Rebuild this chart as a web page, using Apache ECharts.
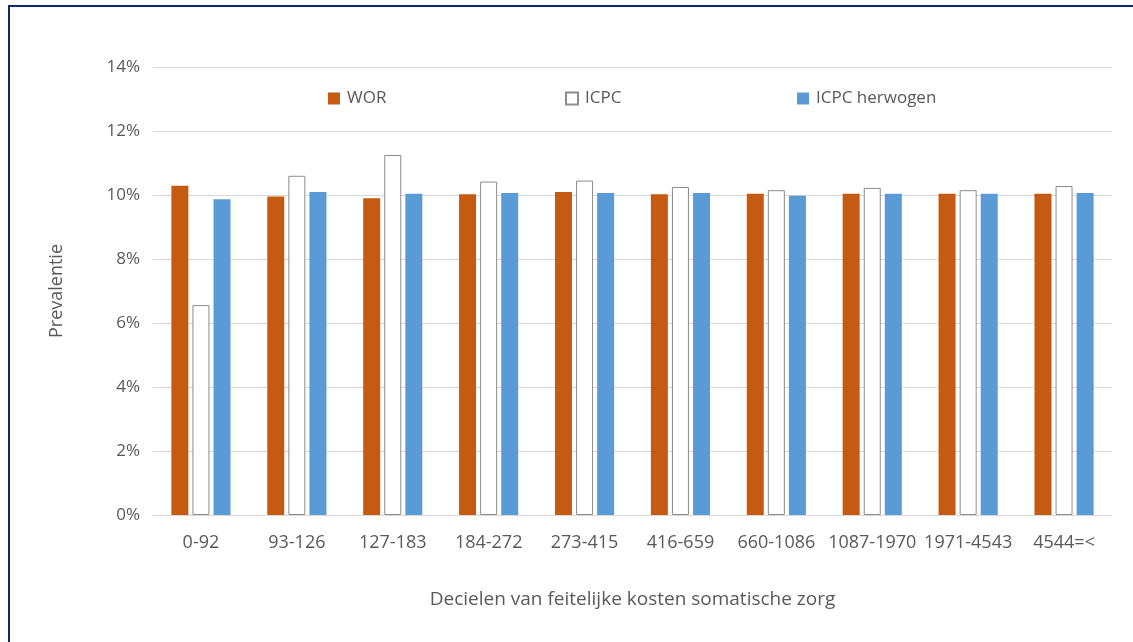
<!DOCTYPE html>
<html>
<head>
<meta charset="utf-8">
<script src="https://cdn.jsdelivr.net/npm/echarts@6/dist/echarts.min.js"></script>
<style>
html,body{margin:0;padding:0;background:#fff;}
#frame{position:absolute;left:8px;top:5px;width:1125px;height:637px;border-top:2px solid #0d2a6b;border-left:2px solid #0d2a6b;box-sizing:border-box;}
#chart{position:absolute;left:0;top:0;width:1133px;height:642px;}
</style>
</head>
<body>
<div id="chart"></div>
<div id="frame"></div>
<script>
const categories = ['0-92','93-126','127-183','184-272','273-415','416-659','660-1086','1087-1970','1971-4543','4544=<'];
const wor = [10.29, 9.95, 9.90, 10.02, 10.09, 10.02, 10.04, 10.04, 10.04, 10.04];
const icpc = [6.56, 10.60, 11.25, 10.42, 10.45, 10.25, 10.15, 10.22, 10.15, 10.28];
const icpcHerwogen = [9.87, 10.09, 10.04, 10.06, 10.06, 10.06, 9.98, 10.04, 10.04, 10.06];
const yTicks = [0, 2, 4, 6, 8, 10, 12, 14];

const font = '"Open Sans", "Noto Sans", sans-serif';
const txt = '#595959';
const chart = echarts.init(document.getElementById('chart'), null, {renderer: 'canvas'});
const legendBase = {
  top: 85, itemWidth: 12, itemHeight: 12, itemGap: 0,
  textStyle: {fontFamily: font, fontSize: 17, color: txt, padding: [0,0,0,2]},
  icon: 'rect'
};
chart.setOption({
  animation: false,
  backgroundColor: '#fff',
  legend: [
    Object.assign({}, legendBase, {left: 323, data: ['WOR']}),
    Object.assign({}, legendBase, {left: 560, data: ['ICPC']}),
    Object.assign({}, legendBase, {left: 792, data: ['ICPC herwogen']})
  ],
  grid: {left: 153, right: 21, top: 67, bottom: 127},
  xAxis: {
    type: 'category',
    data: categories,
    axisLine: {lineStyle: {color: '#D9D9D9', width: 1}},
    axisTick: {show: false},
    axisLabel: {fontFamily: font, fontSize: 18, color: txt, margin: 19, interval: 0},
    name: 'Decielen van feitelijke kosten somatische zorg',
    nameLocation: 'middle',
    nameGap: 75,
    nameTextStyle: {fontFamily: font, fontSize: 19, color: txt}
  },
  yAxis: {
    type: 'value',
    min: yTicks[0], max: yTicks[yTicks.length-1], interval: 2,
    axisLabel: {fontFamily: font, fontSize: 17, color: txt, margin: 13, formatter: v => v + '%'},
    splitLine: {lineStyle: {color: '#D9D9D9', width: 1}},
    axisLine: {show: false},
    axisTick: {show: false},
    name: 'Prevalentie',
    nameLocation: 'middle',
    nameGap: 87,
    nameRotate: 90,
    nameTextStyle: {fontFamily: font, fontSize: 18, color: txt}
  },
  series: [
    {name: 'WOR', type: 'bar', data: wor, barWidth: 17, barGap: '24%',
     itemStyle: {color: '#C55A11'}},
    {name: 'ICPC', type: 'bar', data: icpc, barWidth: 17, barGap: '24%',
     itemStyle: {color: '#FFFFFF', borderColor: '#8C8C8C', borderWidth: 1}},
    {name: 'ICPC herwogen', type: 'bar', data: icpcHerwogen, barWidth: 17, barGap: '24%',
     itemStyle: {color: '#5B9BD5'}}
  ]
});
</script>
</body>
</html>
